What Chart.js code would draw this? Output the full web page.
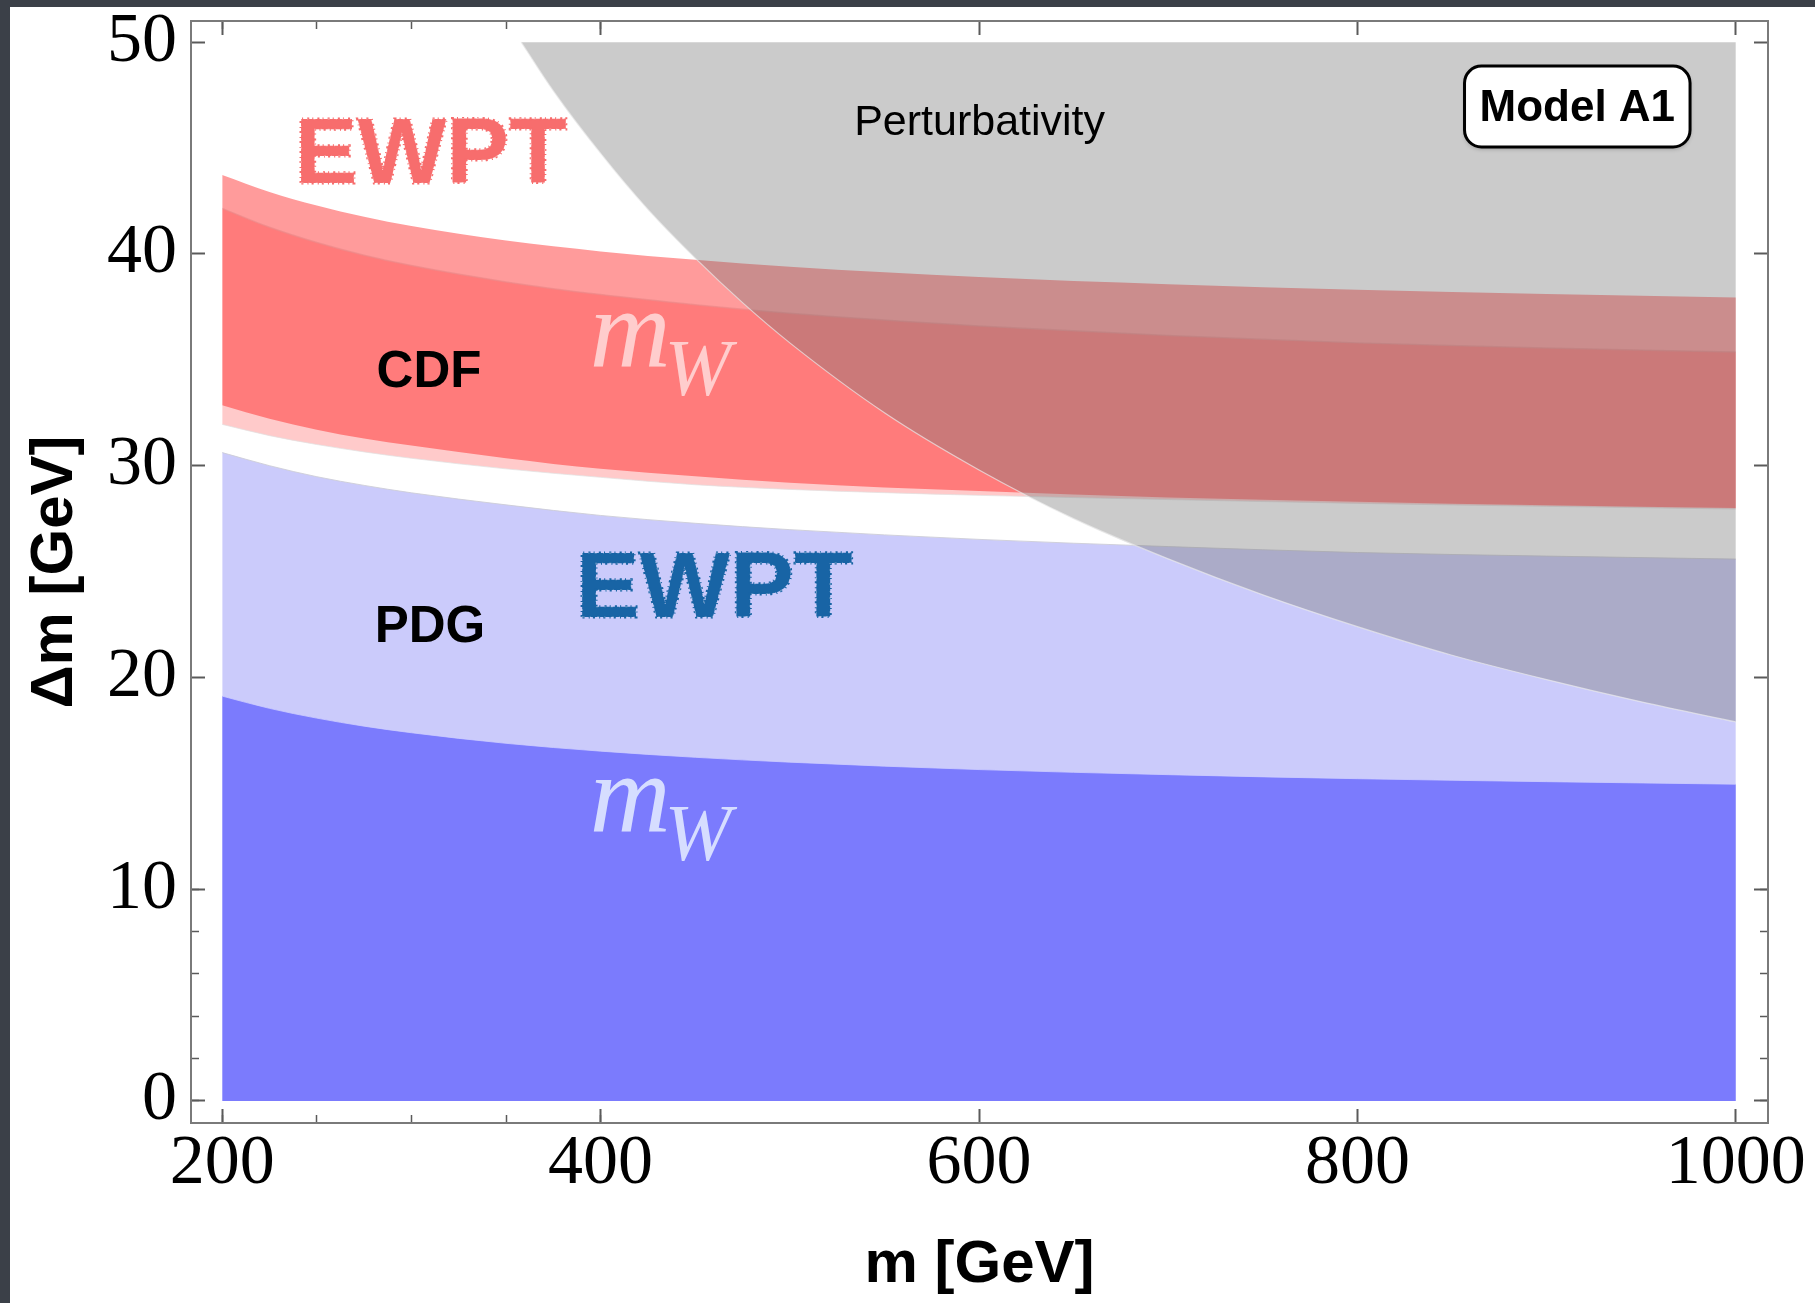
<!DOCTYPE html>
<html>
<head>
<meta charset="utf-8">
<script src="https://cdn.jsdelivr.net/npm/chart.js@4.4.1/dist/chart.umd.min.js"></script>
<style>
  html, body { margin: 0; padding: 0; background: #3b4048; overflow: hidden; }
  canvas { display: block; }
</style>
</head>
<body>
<canvas id="myChart" width="1815" height="1303"></canvas>
<script>
var masses = [200, 225, 250, 275, 300, 350, 400, 450, 500, 600, 700, 800, 900, 1000];

// PDG: EWPT band top and m_W band top (both start at 0)
var pdgEwptTop = [30.62, 30.0, 29.48, 29.07, 28.72, 28.15, 27.65, 27.28, 26.98, 26.52, 26.18, 25.9, 25.73, 25.59];
var pdgMwTop = [19.12, 18.54, 18.08, 17.70, 17.39, 16.89, 16.52, 16.23, 16.0, 15.65, 15.41, 15.22, 15.08, 14.96];

// CDF: EWPT band and m_W band
var cdfEwptLow = [31.95, 31.42, 31.0, 30.65, 30.35, 29.85, 29.45, 29.1, 28.88, 28.6, 28.4, 28.22, 28.08, 27.95];
var cdfEwptHigh = [42.15, 41.26, 40.54, 39.94, 39.45, 38.68, 38.08, 37.6, 37.2, 36.6, 36.15, 35.8, 35.56, 35.37];
var cdfMwLow = [32.86, 32.22, 31.7, 31.28, 30.95, 30.35, 29.85, 29.5, 29.2, 28.8, 28.5, 28.3, 28.13, 28.0];
var cdfMwHigh = [43.73, 42.93, 42.29, 41.76, 41.32, 40.63, 40.12, 39.72, 39.39, 38.91, 38.57, 38.31, 38.11, 37.94];

// perturbativity bound (excluded above)
var pertMasses = [358, 375, 400, 425, 450, 475, 500, 550, 600, 650, 700, 750, 800, 850, 900, 950, 1000];
var pertBound = [50, 47.7, 44.75, 42.1, 39.8, 37.7, 35.8, 32.5, 29.8, 27.5, 25.6, 23.9, 22.4, 21.05, 19.9, 18.85, 17.9];
var pertTop = [50, 50, 50, 50, 50, 50, 50, 50, 50, 50, 50, 50, 50, 50, 50, 50, 50];

// ticks
var xTicks = [200, 400, 600, 800, 1000];
var xTickLabels = ["200", "400", "600", "800", "1000"];
var xMinorTicks = [200, 250, 300, 350, 400, 450, 500, 550, 600, 650, 700, 750, 800, 850, 900, 950, 1000];
var yTicks = [0, 10, 20, 30, 40, 50];
var yTickLabels = ["0", "10", "20", "30", "40", "50"];
var yMinorTicks = [0, 2, 4, 6, 8, 10, 12, 14, 16, 18, 20, 22, 24, 26, 28, 30, 32, 34, 36, 38, 40, 42, 44, 46, 48, 50];

function pts(xs, ys) {
    return xs.map(function(x, i) { return {x: x, y: ys[i]}; });
}

var edge = 'rgba(225,225,225,0.7)';

function band(data, fill, bg, order, line, lw) {
    return {
        data: data,
        fill: fill,
        backgroundColor: bg,
        borderColor: line || 'rgba(0,0,0,0)',
        borderWidth: lw || 0,
        pointRadius: 0,
        cubicInterpolationMode: 'monotone',
        order: order
    };
}

var datasets = [
    band(pts(masses, pdgEwptTop), 'origin', '#cbcbfb', 6, 'rgba(205,205,215,0.9)', 1),
    band(pts(masses, pdgMwTop), 'origin', '#7b7bfd', 5, 'rgba(205,205,255,0.8)', 1),
    band(pts(masses, cdfEwptLow), false, 'rgba(0,0,0,0)', 4, edge, 1),
    band(pts(masses, cdfEwptHigh), '-1', 'rgba(255,5,5,0.21)', 4, edge, 1.5),
    band(pts(masses, cdfMwLow), false, 'rgba(0,0,0,0)', 3),
    band(pts(masses, cdfMwHigh), '-1', 'rgba(255,5,5,0.40)', 3),
    band(pts(pertMasses, pertBound), false, 'rgba(0,0,0,0)', 2, 'rgba(235,235,235,0.7)', 1.2),
    band(pts(pertMasses, pertTop), '-1', 'rgba(120,120,120,0.385)', 2)
];

function fixTicks(list) {
    return function(s) { s.ticks = list.map(function(v) { return {value: v}; }); };
}

function fitSize(w, h) {
    return function(s) {
        if (w !== null) s.width = w;
        if (h !== null) s.height = h;
        s.paddingLeft = 0; s.paddingRight = 0; s.paddingTop = 0; s.paddingBottom = 0;
    };
}

var tickFont = {family: 'Liberation Serif', size: 70};
var titleFont = {family: 'Liberation Sans', size: 60, weight: 'bold', lineHeight: 1.2};
var frameColor = '#7a7a7a';
var tickColor = '#5a5a5a';

function xScale(pos, major, weight) {
    return {
        type: 'linear', axis: 'x', position: pos, min: 183.5, max: 1017, weight: weight,
        afterBuildTicks: fixTicks(major ? xTicks : xMinorTicks),
        afterFit: fitSize(null, (pos === 'bottom' && major) ? 180 : 0),
        ticks: {
            display: pos === 'bottom' && major,
            callback: function(v, i) { return xTickLabels[i]; },
            font: tickFont, color: '#000', padding: 14, maxRotation: 0, autoSkip: false
        },
        grid: { drawOnChartArea: false, tickLength: major ? -14 : -8, tickWidth: major ? 2 : 1.5, tickColor: tickColor },
        border: { display: major, color: frameColor, width: 2 },
        title: {
            display: pos === 'bottom' && major, text: 'm [GeV]', font: titleFont, color: '#000',
            padding: {top: 0, bottom: 2}
        }
    };
}

function yScale(pos, major, weight) {
    return {
        type: 'linear', axis: 'y', position: pos, min: -1.04, max: 51.0, weight: weight,
        afterBuildTicks: fixTicks(major ? yTicks : yMinorTicks),
        afterFit: fitSize((pos === 'left' && major) ? 191 : 0, null),
        ticks: {
            display: pos === 'left' && major,
            callback: function(v, i) { return yTickLabels[i]; },
            font: tickFont, color: '#000', padding: 28, autoSkip: false
        },
        grid: { drawOnChartArea: false, tickLength: major ? -14 : -8, tickWidth: major ? 2 : 1.5, tickColor: tickColor },
        border: { display: major, color: frameColor, width: 2 },
        title: {
            display: pos === 'left' && major, text: '\u0394m [GeV]', font: titleFont, color: '#000',
            padding: {top: 19, bottom: 0}
        }
    };
}

// dark slate page with the white sheet the figure sits on
var panelPlugin = {
    id: 'panel',
    beforeDraw: function(chart) {
        var c = chart.ctx;
        c.save();
        c.fillStyle = '#3b4048';
        c.fillRect(0, 0, chart.width, chart.height);
        c.fillStyle = '#ffffff';
        c.fillRect(10, 7, chart.width - 10, chart.height - 7);
        c.restore();
    }
};

// labels placed in data coordinates
var labelPlugin = {
    id: 'labels',
    afterDatasetsDraw: function(chart) {
        var c = chart.ctx;
        var sx = chart.scales.x, sy = chart.scales.y;
        function px(v) { return sx.getPixelForValue(v); }
        function py(v) { return sy.getPixelForValue(v); }

        // hand-written look: filled glyphs with a broken, jagged outline
        function chalkText(text, x, base, width, cap, color) {
            var size = cap / 0.716;
            c.font = 'bold ' + size.toFixed(1) + 'px "Liberation Sans"';
            var w = c.measureText(text).width;
            c.save();
            c.translate(x, base);
            c.scale(width / w, 1);
            c.textAlign = 'left';
            c.textBaseline = 'alphabetic';
            c.fillStyle = color;
            c.fillText(text, 0, 0);
            c.strokeStyle = color;
            c.lineWidth = 3;
            c.setLineDash([2, 3, 1, 4]);
            c.strokeText(text, 0, 0);
            c.strokeStyle = 'rgba(255,255,255,0.35)';
            c.lineWidth = 1;
            c.setLineDash([1, 5, 2, 6]);
            c.strokeText(text, 0, 0);
            c.restore();
        }

        c.save();
        chalkText('EWPT', px(238.3), py(43.35), 272, 66, '#f76d6d');
        chalkText('EWPT', px(386.8), py(22.85), 277, 66, '#1864a5');

        // m_W tags
        c.textBaseline = 'alphabetic';
        c.textAlign = 'left';
        c.fillStyle = '#ffcdcd';
        c.font = 'italic 112px "Liberation Serif"';
        c.fillText('m', px(394.2), py(34.67));
        c.font = 'italic 80px "Liberation Serif"';
        c.fillText('W', px(433.8), py(33.33));
        c.fillStyle = '#d6ddff';
        c.font = 'italic 112px "Liberation Serif"';
        c.fillText('m', px(394.2), py(12.70));
        c.font = 'italic 80px "Liberation Serif"';
        c.fillText('W', px(433.8), py(11.37));

        // CDF / PDG
        c.fillStyle = '#000';
        c.font = 'bold 51px "Liberation Sans"';
        c.fillText('CDF', px(281.6), py(33.71));
        c.fillText('PDG', px(280.6), py(21.67));

        c.font = '43px "Liberation Sans"';
        c.textAlign = 'center';
        c.fillText('Perturbativity', px(600.3), py(45.6));

        // Model A1 box
        var bx = px(856.6), by = py(48.87), bw = px(975.8) - bx, bh = py(45.05) - by;
        c.beginPath();
        c.roundRect(bx, by, bw, bh, 17);
        c.shadowColor = 'rgba(0,0,0,0.25)';
        c.shadowBlur = 4;
        c.shadowOffsetY = 2;
        c.fillStyle = '#fff';
        c.fill();
        c.shadowColor = 'rgba(0,0,0,0)';
        c.lineWidth = 3;
        c.strokeStyle = '#000';
        c.stroke();
        c.fillStyle = '#000';
        c.font = 'bold 44px "Liberation Sans"';
        c.textAlign = 'center';
        c.fillText('Model A1', bx + bw / 2, by + 55);
        c.restore();
    }
};

var ctx = document.getElementById("myChart").getContext('2d');

var myChart = new Chart(ctx, {
    type: 'line',
    data: { datasets: datasets },
    options: {
        responsive: false,
        devicePixelRatio: 1,
        animation: false,
        events: [],
        layout: { padding: {top: 21, right: 47, bottom: 0, left: 0} },
        plugins: {
            legend: { display: false },
            tooltip: { enabled: false }
        },
        scales: {
            x: xScale('bottom', true, 0),
            xMinor: xScale('bottom', false, -1),
            xTop: xScale('top', true, 0),
            xTopMinor: xScale('top', false, -1),
            y: yScale('left', true, 0),
            yMinor: yScale('left', false, -1),
            yRight: yScale('right', true, 0),
            yRightMinor: yScale('right', false, -1)
        }
    },
    plugins: [panelPlugin, labelPlugin]
});
</script>
</body>
</html>
